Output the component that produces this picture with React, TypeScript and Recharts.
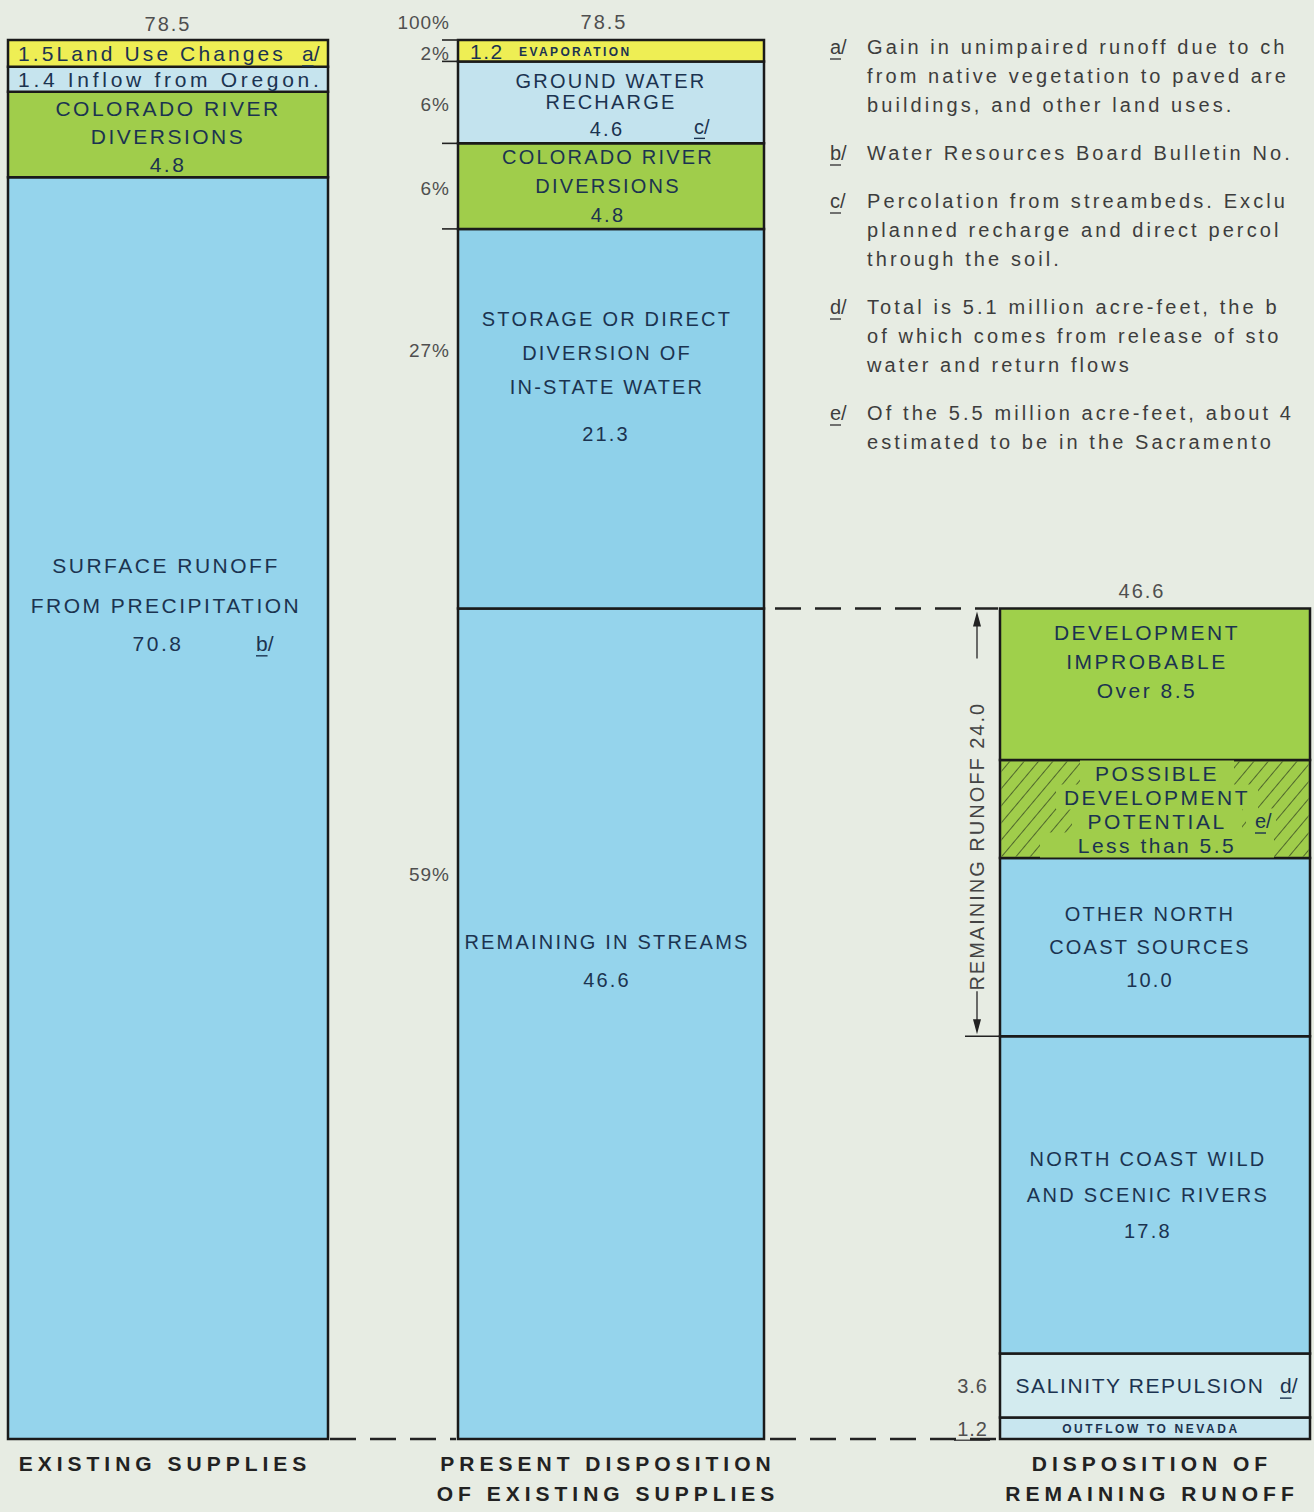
import React from 'react'
import { BarChart, Bar, XAxis, YAxis } from 'recharts'

const PAGE_W = 1314
const PAGE_H = 1512
const TOP = 40
const BOTTOM = 1439
const Y_MAX = 78.5
const yOf = (v: number) => TOP + ((Y_MAX - v) * (BOTTOM - TOP)) / Y_MAX

// million acre-feet, listed bottom to top of each column
const existingKeys = ['surface', 'colorado', 'oregon', 'landUse']
const existingValues = [70.8, 4.8, 1.4, 1.5]

const presentKeys = ['streams', 'storage', 'colorado', 'groundWater', 'evaporation']
const presentValues = [46.6, 21.3, 4.8, 4.6, 1.2]
const presentShares = ['59%', '27%', '6%', '6%', '2%']

const remainingKeys = ['nevada', 'salinity', 'wildRivers', 'otherCoast', 'possible', 'improbable']
const remainingValues = [1.2, 3.6, 17.8, 10.0, 5.5, 8.5]
const remainingRunoff = 24.0

const columnTotals = ['78.5', '78.5', '46.6']
const columnTitles = [
    ['EXISTING SUPPLIES'],
    ['PRESENT DISPOSITION', 'OF EXISTING SUPPLIES'],
    ['DISPOSITION OF', 'REMAINING RUNOFF'],
]

const footnoteMarks = ['a/', 'b/', 'c/', 'd/', 'e/']
const footnoteLines = [
    ['Gain in unimpaired runoff due to ch', 'from native vegetation to paved are', 'buildings, and other land uses.'],
    ['Water Resources Board Bulletin No.'],
    ['Percolation from streambeds. Exclu', 'planned recharge and direct percol', 'through the soil.'],
    ['Total is 5.1 million acre-feet, the b', 'of which comes from release of sto', 'water and return flows'],
    ['Of the 5.5 million acre-feet, about 4', 'estimated to be in the Sacramento'],
]

const INK = '#1b3350'
const GREY = '#4f4f4f'
const FONT = '"Liberation Sans", Arial, Helvetica, sans-serif'
const BLUE = '#95d4ec'
const GREEN = '#a0cd4b'

const FILL: Record<string, string> = {
    surface: BLUE,
    colorado: GREEN,
    oregon: '#c6e4ee',
    landUse: '#eeee54',
    streams: BLUE,
    storage: '#8fd1ea',
    groundWater: '#c3e3ee',
    evaporation: '#eeee54',
    nevada: '#c8e6ef',
    salinity: '#d3ebef',
    wildRivers: BLUE,
    otherCoast: BLUE,
    possible: GREEN,
    improbable: '#9fd04b',
}

type Box = { x: number; y: number; w: number; h: number }

const boxOf = (p: any): Box => {
    const v = p && p.viewBox && p.viewBox.width != null ? p.viewBox : p
    let y = Number(v.y)
    let h = Number(v.height)
    if (h < 0) { y += h; h = -h }
    return { x: Number(v.x), y, w: Number(v.width), h }
}

const T = ({ x, y, children, size = 19, anchor = 'middle', spacing = 2, weight = 400, fill = INK }: any) => (
    <text x={x} y={y} dy="0.36em" textAnchor={anchor} fontSize={size} letterSpacing={spacing}
        fontWeight={weight} fill={fill} fontFamily={FONT}>{children}</text>
)

const Note = ({ x, y, mark, size = 19, fill = INK }: any) => (
    <g>
        <T x={x} y={y} anchor="start" size={size} spacing={0} fill={fill}>{mark}</T>
        <line x1={x} x2={x + size * 0.55} y1={y + size * 0.6} y2={y + size * 0.6} stroke={fill} strokeWidth={1.4} />
    </g>
)

const stack = (cx: number, first: number, gap: number, lines: string[], props: any = {}) =>
    lines.map((t, i) => <T key={i} x={cx} y={first + i * gap} {...props}>{t}</T>)

const centered = (cx: number, mid: number, gap: number, lines: string[], props: any = {}) =>
    stack(cx, mid - ((lines.length - 1) * gap) / 2, gap, lines, props)

const BIG = { size: 21, spacing: 2.5 }

const existingLabels: Record<string, (b: Box) => React.ReactNode> = {
    landUse: b => (
        <g>
            <T x={b.x + 10} y={b.y + b.h / 2} anchor="start" size={21} spacing={3.1}>1.5Land Use Changes</T>
            <Note x={b.x + b.w - 26} y={b.y + b.h / 2} mark="a/" size={21} />
            <T x={b.x + b.w / 2} y={b.y - 16} fill={GREY} size={20}>{columnTotals[0]}</T>
        </g>
    ),
    oregon: b => <T x={b.x + 10} y={b.y + b.h / 2} anchor="start" size={21} spacing={3.7}>1.4 Inflow from Oregon.</T>,
    colorado: b => <g>{centered(b.x + b.w / 2, b.y + b.h / 2 + 2, 28, ['COLORADO RIVER', 'DIVERSIONS', '4.8'], BIG)}</g>,
    surface: b => (
        <g>
            {stack(b.x + b.w / 2 - 2, b.y + 388, 40, ['SURFACE RUNOFF', 'FROM PRECIPITATION'], BIG)}
            <T x={b.x + 150} y={b.y + 466} {...BIG}>70.8</T>
            <Note x={b.x + 248} y={b.y + 466} mark="b/" size={21} />
        </g>
    ),
}

const MID = { size: 20, spacing: 2.2 }

const presentLabels: Record<string, (b: Box) => React.ReactNode> = {
    evaporation: b => (
        <g>
            <T x={b.x + 12} y={b.y + b.h / 2 + 1} anchor="start" size={21} spacing={1.5}>1.2</T>
            <T x={b.x + 61} y={b.y + b.h / 2 + 1} anchor="start" size={12} weight={700} spacing={2.4}>EVAPORATION</T>
            <T x={b.x + b.w / 2 - 7} y={b.y - 18} fill={GREY} size={20}>{columnTotals[1]}</T>
            <T x={b.x - 8} y={b.y - 18} anchor="end" fill={GREY} size={19} spacing={1}>100%</T>
        </g>
    ),
    groundWater: b => {
        const m = b.y + b.h / 2
        return (
            <g>
                {stack(b.x + b.w / 2, m - 22, 21, ['GROUND WATER', 'RECHARGE'], MID)}
                <T x={b.x + 149} y={m + 26} {...MID}>4.6</T>
                <Note x={b.x + 236} y={m + 24} mark="c/" size={20} />
            </g>
        )
    },
    colorado: b => <g>{centered(b.x + b.w / 2 - 3, b.y + b.h / 2, 29, ['COLORADO RIVER', 'DIVERSIONS', '4.8'], MID)}</g>,
    storage: b => (
        <g>
            {stack(b.x + b.w / 2 - 4, b.y + 90, 34, ['STORAGE OR DIRECT', 'DIVERSION OF', 'IN-STATE WATER'], MID)}
            <T x={b.x + 148} y={b.y + 205} {...MID}>21.3</T>
        </g>
    ),
    streams: b => <g>{stack(b.x + b.w / 2 - 4, b.y + 333, 38, ['REMAINING IN STREAMS', '46.6'], MID)}</g>,
}

const remainingLabels: Record<string, (b: Box) => React.ReactNode> = {
    improbable: b => (
        <g>
            {stack(b.x + b.w / 2 - 8, b.y + 24, 29, ['DEVELOPMENT', 'IMPROBABLE', 'Over 8.5'], BIG)}
            <T x={b.x + b.w / 2 - 13} y={b.y - 18} fill={GREY} size={20}>{columnTotals[2]}</T>
        </g>
    ),
    possible: b => {
        const lines = ['POSSIBLE', 'DEVELOPMENT', 'POTENTIAL', 'Less than 5.5']
        const gap = 24
        const mid = b.y + b.h / 2
        const first = mid - ((lines.length - 1) * gap) / 2
        const cx = b.x + b.w / 2 + 2
        return (
            <g>
                <rect x={b.x + 1.5} y={b.y + 1.5} width={Math.max(0, b.w - 3)} height={Math.max(0, b.h - 3)} fill="url(#hatchLines)" />
                {lines.map((t, i) => {
                    const w = t.length * 16 + 26
                    return <rect key={'bg' + i} x={cx - w / 2} y={first + i * gap - 12.5} width={w} height={25} fill={GREEN} />
                })}
                <rect x={b.x + 246} y={first + 2 * gap - 12.5} width={30} height={25} fill={GREEN} />
                {stack(cx, first, gap, lines, BIG)}
                <Note x={b.x + 255} y={first + 2 * gap} mark="e/" size={20} />
            </g>
        )
    },
    otherCoast: b => <g>{centered(b.x + b.w / 2 - 5, b.y + b.h / 2, 33, ['OTHER NORTH', 'COAST SOURCES', '10.0'], MID)}</g>,
    wildRivers: b => <g>{centered(b.x + b.w / 2 - 7, b.y + b.h / 2, 36, ['NORTH COAST WILD', 'AND SCENIC RIVERS', '17.8'], { size: 20, spacing: 2.3 })}</g>,
    salinity: b => (
        <g>
            <T x={b.x + 140} y={b.y + b.h / 2} size={21} spacing={1.6}>SALINITY REPULSION</T>
            <Note x={b.x + b.w - 30} y={b.y + b.h / 2} mark="d/" size={21} />
            <T x={b.x - 12} y={b.y + b.h / 2} anchor="end" fill={GREY} size={20} spacing={1}>3.6</T>
        </g>
    ),
    nevada: b => (
        <g>
            <T x={b.x + b.w / 2 - 4} y={b.y + b.h / 2} size={12} weight={700} spacing={2.6}>OUTFLOW TO NEVADA</T>
            <T x={b.x - 12} y={b.y + b.h / 2} anchor="end" fill={GREY} size={20} spacing={1}>1.2</T>
            <line x1={b.x - 46} x2={b.x - 10} y1={b.y + b.h / 2 + 12} y2={b.y + b.h / 2 + 12} stroke={GREY} strokeWidth={1.4} />
        </g>
    ),
}

function Column({ keys, values, labels, left, barWidth, padLeft, shares }: any) {
    const row: any = { name: 'col' }
    keys.forEach((k: string, i: number) => { row[k] = values[i] })
    return (
        <div style={{ position: 'absolute', left: left - padLeft, top: 0 }}>
            <BarChart width={padLeft + barWidth + 2} height={PAGE_H} data={[row]}
                margin={{ top: TOP, bottom: PAGE_H - BOTTOM, left: padLeft, right: 2 }}
                barCategoryGap={0}>
                <defs>
                    <pattern id="hatchLines" width="11" height="11" patternUnits="userSpaceOnUse" patternTransform="rotate(40)">
                        <line x1="0" y1="0" x2="0" y2="11" stroke="#2c3a1e" strokeWidth="1.4" />
                    </pattern>
                </defs>
                <XAxis dataKey="name" hide />
                <YAxis type="number" domain={[0, Y_MAX]} hide />
                {keys.map((k: string, i: number) => (
                    <Bar key={k} dataKey={k} stackId="s" fill={FILL[k]} stroke="#1a1a1a" strokeWidth={2.5}
                        isAnimationActive={false}
                        label={(p: any) => {
                            const b = boxOf(p)
                            return (
                                <g>
                                    {labels[k](b)}
                                    {shares && (
                                        <g>
                                            <T x={b.x - 8} y={b.h < 120 ? b.y + b.h / 2 + 2 : b.y + b.h * 0.32}
                                                anchor="end" fill={GREY} size={19} spacing={1}>{shares[i]}</T>
                                            {i > 0 && <line x1={b.x - 16} x2={b.x} y1={b.y} y2={b.y} stroke="#222" strokeWidth={1.6} />}
                                        </g>
                                    )}
                                </g>
                            )
                        }} />
                ))}
            </BarChart>
        </div>
    )
}

function Overlay() {
    const remTotal = remainingValues.reduce((a, v) => a + v, 0)
    const yTop = yOf(remTotal)
    const yLow = yOf(remTotal - remainingRunoff)
    const ax = 977
    const textEnd = yLow - 45
    const textMid = textEnd - 145
    const dash = { stroke: '#222', strokeWidth: 2.5, strokeDasharray: '26 14' }
    const centers = [168, 611, 1155]
    let fy = 47
    return (
        <svg width={PAGE_W} height={PAGE_H} style={{ position: 'absolute', left: 0, top: 0, pointerEvents: 'none' }}>
            <line x1={775} x2={998} y1={yTop} y2={yTop} {...dash} />
            <line x1={330} x2={456} y1={BOTTOM} y2={BOTTOM} {...dash} />
            <line x1={770} x2={998} y1={BOTTOM} y2={BOTTOM} {...dash} />

            <line x1={ax} x2={ax} y1={yTop + 14} y2={yTop + 50} stroke="#333" strokeWidth={1.4} />
            <polygon points={`${ax},${yTop + 3} ${ax - 4},${yTop + 18} ${ax + 4},${yTop + 18}`} fill="#222" />
            <line x1={ax} x2={ax} y1={textEnd} y2={yLow - 12} stroke="#333" strokeWidth={1.4} />
            <polygon points={`${ax},${yLow - 2} ${ax - 4},${yLow - 17} ${ax + 4},${yLow - 17}`} fill="#222" />
            <line x1={ax - 12} x2={1000} y1={yLow} y2={yLow} stroke="#222" strokeWidth={1.6} />
            <text x={ax} y={textMid} dy="0.36em" textAnchor="middle" fontSize={20} letterSpacing={2}
                fill="#444" fontFamily={FONT} transform={`rotate(-90 ${ax} ${textMid})`}>
                {`REMAINING RUNOFF ${remainingRunoff.toFixed(1)}`}
            </text>

            {columnTitles.map((lines, c) => lines.map((t, i) => (
                <text key={`${c}-${i}`} x={centers[c] - 3} y={1463 + i * 30} dy="0.36em" textAnchor="middle"
                    fontSize={21} fontWeight={700} letterSpacing={5} fill="#222" fontFamily={FONT}>{t}</text>
            )))}

            {footnoteLines.map((lines, n) => {
                const top = fy
                fy += lines.length * 29 + 19
                return (
                    <g key={n}>
                        <Note x={830} y={top} mark={footnoteMarks[n]} size={20} fill="#3d3d3d" />
                        {lines.map((t, i) => (
                            <text key={i} x={867} y={top + i * 29} dy="0.36em" fontSize={20} letterSpacing={3.1}
                                fill="#3d3d3d" fontFamily={FONT}>{t}</text>
                        ))}
                    </g>
                )
            })}
        </svg>
    )
}

export default function App() {
    return (
        <div style={{ position: 'absolute', left: 0, top: 0, width: PAGE_W, height: PAGE_H, overflow: 'hidden', background: '#e7ece3' }}>
            <Column keys={existingKeys} values={existingValues} labels={existingLabels} left={8} barWidth={320} padLeft={2} />
            <Column keys={presentKeys} values={presentValues} labels={presentLabels} left={458} barWidth={306} padLeft={80} shares={presentShares} />
            <Column keys={remainingKeys} values={remainingValues} labels={remainingLabels} left={1000} barWidth={310} padLeft={70} />
            <Overlay />
        </div>
    )
}
